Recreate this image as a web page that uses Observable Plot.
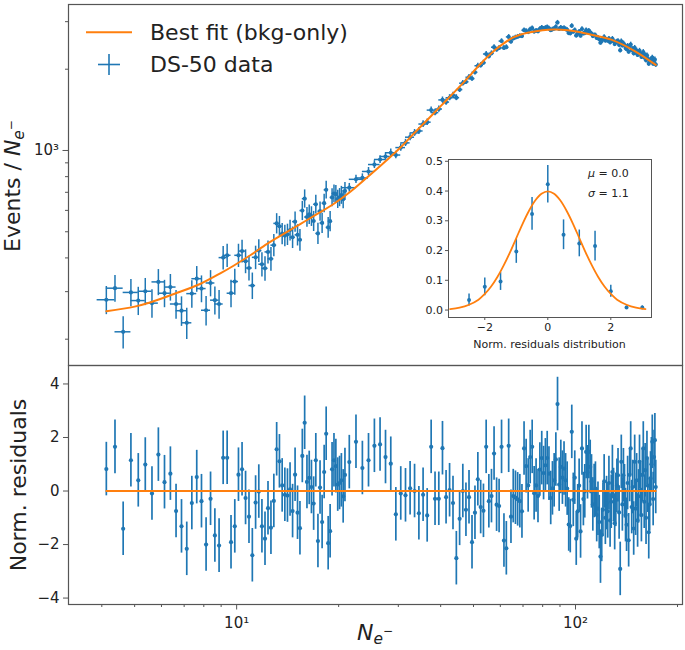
<!DOCTYPE html>
<html><head><meta charset="utf-8">
<script src="https://cdn.jsdelivr.net/npm/d3@7"></script>
<script src="https://cdn.jsdelivr.net/npm/@observablehq/plot@0.6"></script>
<style>
body{margin:0;background:#fff;}
#chart{position:relative;width:685px;height:650px;font-family:"DejaVu Sans",sans-serif;}
#chart svg{position:absolute;overflow:visible;}
</style></head><body><div id="chart"></div>
<script>
// ---- data ----
const binCenters = [4.125,4.375,4.625,4.875,5.125,5.375,5.625,5.875,6.125,6.375,6.625,6.875,7.125,7.375,7.625,7.875,8.125,8.375,8.625,8.875,9.125,9.375,9.625,9.875,10.125,10.375,10.625,10.875,11.125,11.375,11.625,11.875,12.125,12.375,12.625,12.875,13.125,13.375,13.625,13.875,14.125,14.375,14.625,14.875,15.125,15.375,15.625,15.875,16.125,16.375,16.625,16.875,17.125,17.375,17.625,17.875,18.125,18.375,18.625,18.875,19.125,19.375,19.625,19.875,20.125,20.375,20.625,20.875,
21.5,22.5,23.5,24.5,25.5,26.5,27.5,28.5,29.5,30.5,31.5,32.5,33.5,34.5,35.5,36.5,37.5,38.5,39.5,40.5,41.5,42.5,43.5,44.5,45.5,46.5,47.5,48.5,49.5,50.5,51.5,52.5,53.5,54.5,55.5,56.5,57.5,58.5,59.5,60.5,61.5,62.5,63.5,64.5,65.5,66.5,67.5,68.5,69.5,70.5,71.5,72.5,73.5,74.5,75.5,76.5,77.5,78.5,79.5,80.5,81.5,82.5,83.5,84.5,85.5,86.5,87.5,88.5,89.5,90.5,91.5,92.5,93.5,94.5,95.5,96.5,97.5,98.5,99.5,100.5,101.5,102.5,103.5,104.5,105.5,106.5,107.5,108.5,109.5,110.5,111.5,112.5,113.5,114.5,115.5,116.5,117.5,118.5,119.5,120.5,121.5,122.5,123.5,124.5,125.5,126.5,127.5,128.5,129.5,130.5,131.5,132.5,133.5,134.5,135.5,136.5,137.5,138.5,139.5,140.5,141.5,142.5,143.5,144.5,145.5,146.5,147.5,148.5,149.5,150.5,151.5,152.5,153.5,154.5,155.5,156.5,157.5,158.5,159.5,160.5,161.5,162.5,163.5,164.5,165.5,166.5,167.5,168.5,169.5,170.5,171.5,172.5];
const binWidths = [0.25, 1];       // Ne- bin width below / above 21 Ne-
const binWidthEdge = 21;

const eventsPerNe = [280,309,213,298,278,301,272,326,296,312,
270,255,230,295,335,308,256,323,279,270,
401,409,296,327,409,424,389,367,316,402,
426,379,366,421,397,446,537,524,492,484,
489,507,477,545,487,467,599,663,567,580,
571,548,632,493,596,539,638,715,519,547,
670,693,689,661,671,684,660,708,
728,782,791,836,887,926,950,981,962,1025,
1067,1120,1162,1181,1253,1273,1411,1381,1424,1539,
1511,1568,1602,1569,1681,1775,1796,1868,1846,1949,
2060,2068,2114,2277,2232,2291,2413,2365,2397,2542,
2398,2413,2635,2531,2600,2622,2639,2655,2653,2790,
2769,2744,2810,2839,2756,2778,2763,2821,2850,2825,
2845,2862,2834,2789,2810,2827,2868,2978,2818,2851,
2827,2842,2816,2797,2723,2715,2895,2755,2791,2665,
2711,2755,2663,2818,2712,2720,2790,2743,2776,2740,
2704,2652,2671,2669,2611,2615,2582,2508,2543,2583,
2630,2553,2573,2549,2595,2516,2544,2592,2540,2479,
2513,2531,2542,2463,2349,2538,2449,2493,2454,2399,
2372,2439,2323,2431,2469,2351,2376,2290,2400,2304,
2344,2260,2291,2341,2278,2222,2282,2316,2210,2254,
2158,2251,2190,2097,2134,2167,2179,2206,2095,2155,
2172,2080];

const normResiduals = [0.82,1.65,-1.41,1.15,0.40,0.99,-0.09,1.36,0.33,0.65,
-0.75,-1.32,-2.16,-0.45,0.52,-0.38,-2.00,-0.29,-1.66,-2.04,
1.24,1.24,-1.91,-1.32,0.61,0.81,-0.26,-0.96,-2.40,-0.43,
-0.02,-1.32,-1.78,-0.64,-1.37,-0.37,1.56,1.11,0.21,-0.14,
-0.17,0.06,-0.75,0.61,-0.81,-1.39,1.31,2.55,0.34,0.49,
0.15,-0.47,1.15,-1.87,0.13,-1.16,0.71,2.14,-1.95,-1.50,
0.81,1.15,0.93,0.24,0.30,0.40,-0.20,0.60,
1.08,1.84,0.86,1.15,1.69,1.74,1.27,1.02,-0.87,-0.09,
-0.16,0.10,0.00,-0.83,-0.14,-0.91,1.65,-0.29,-0.29,1.60,
-0.23,0.03,-0.45,-2.51,-1.04,0.00,-0.70,-0.23,-1.91,-0.81,
0.44,-0.60,-0.74,1.65,-0.38,-0.19,1.40,-0.51,-0.56,1.65,
-1.85,-2.14,1.69,-0.96,-0.19,-0.25,-0.31,-0.38,-0.76,1.59,
0.93,0.21,1.27,1.65,-0.08,0.21,-0.19,0.80,1.23,0.67,
0.96,1.23,0.65,-0.26,0.10,0.40,1.18,3.25,0.24,0.90,
0.50,0.84,0.40,0.09,-1.25,-1.31,2.21,-0.33,0.50,-1.78,
-0.76,0.20,-1.51,1.59,-0.30,-0.01,1.46,0.70,1.46,0.90,
0.36,-0.50,0.00,0.09,-0.90,-0.66,-1.16,-2.45,-1.64,-0.70,
0.36,-1.00,-0.45,-0.76,0.30,-1.10,-0.40,0.71,-0.15,-1.20,
-0.33,0.20,0.59,-0.80,-2.91,1.09,-0.50,0.59,-0.01,-0.90,
-1.26,0.30,-1.84,0.60,1.59,-0.60,0.15,-1.40,1.09,-0.66,
0.40,-1.10,-0.20,1.09,0.03,-0.90,0.60,1.59,-0.40,0.78,
-1.00,1.23,0.20,-1.54,-0.50,0.47,1.00,1.84,-0.30,1.27,
1.90,0.15];

const fitNe = [4.125,5,5.58,6.53,7.83,9,9.82,11,12.3,13.8,15.45,17.3,19.37,21.7,24.3,27.3,30.5,33.3,37,41.8,47,52.5,58,65.8,73.6,80,86.3,95,103.4,115,129.7,150,172.5];
const fitEvents = [254,264,274,294,321,352,375,410,451,492,535,582,635,705,796,905,1028,1153,1320,1545,1800,2095,2360,2629,2743,2790,2806,2790,2743,2660,2553,2330,2075];

const histCenters = [-2.5,-2.0,-1.5,-1.0,-0.5,0.0,0.5,1.0,1.5,2.0,2.5,3.0];
const histDensity = [0.034,0.078,0.096,0.197,0.323,0.423,0.253,0.224,0.215,0.063,0.009,0.009];
const histErrors  = [0.020,0.030,0.030,0.040,0.055,0.063,0.050,0.045,0.050,0.020,0.005,0.005];

const gaussX = [-3.1,-2.8,-2.5,-2.2,-2.0,-1.8,-1.6,-1.4,-1.2,-1.0,-0.8,-0.6,-0.4,-0.2,0,0.2,0.4,0.6,0.8,1.0,1.2,1.4,1.6,1.8,2.0,2.2,2.5,2.8,3.1];
const gaussY = [0.003,0.008,0.018,0.035,0.054,0.079,0.111,0.150,0.194,0.242,0.290,0.333,0.368,0.391,0.399,0.391,0.368,0.333,0.290,0.242,0.194,0.150,0.111,0.079,0.054,0.035,0.018,0.008,0.003];

const topMajorTicks = [1000];
const topMinorTicks = [200,300,400,500,600,700,800,900,2000,3000];
const xMajorTicks = [10,100];
const xMinorTicks = [4,5,6,7,8,9,20,30,40,50,60,70,80,90,200];
const resTicks = [-4,-2,0,2,4];
const insetYTicks = [0,0.1,0.2,0.3,0.4,0.5];
const insetXTicks = [-2,0,2];
const supDigits = {"1":"¹","2":"²","3":"³"};

// ---- styling ----
const BLUE = "#1f77b4", ORANGE = "#ff7f0e", INK = "#222", FRAME = "#555";
const FONT = "DejaVu Sans";
const minus = d => (d < 0 ? "\u2212" + Math.abs(d) : String(d));
const pow10 = d => "10" + supDigits[String(Math.round(Math.log10(d)))];

const rows = binCenters.map((n, i) => {
  const w = n < binWidthEdge ? binWidths[0] : binWidths[1];
  const v = eventsPerNe[i];
  return {n, v, w, e: Math.sqrt(v / w), r: normResiduals[i]};
});
const fitRows = fitNe.map((n, i) => ({n, v: fitEvents[i]}));
const histRows = histCenters.map((x, i) => ({x, y: histDensity[i], e: histErrors[i]}));
const gaussRows = gaussX.map((x, i) => ({x, y: gaussY[i]}));

const xDomain = [3.19, 206.9];
const chart = document.getElementById("chart");

// ---- top panel ----
const topSvg = Plot.plot({
  width: 685, height: 365,
  marginLeft: 68, marginRight: 3, marginTop: 4, marginBottom: 0,
  style: {fontFamily: FONT, fontSize: "15px", background: "none", color: INK},
  x: {type: "log", domain: xDomain, axis: null},
  y: {type: "log", domain: [159.8, 3473], axis: null},
  marks: [
    Plot.axisY({ticks: topMinorTicks, tickSize: 3, tickFormat: () => "", label: null, stroke: FRAME}),
    Plot.axisY({ticks: topMajorTicks, tickSize: 5.5, tickPadding: 4, tickFormat: pow10, label: null, fontSize: 15, stroke: FRAME}),
    Plot.ruleY(rows, {y: "v", x1: d => d.n - d.w, x2: d => d.n + d.w, stroke: BLUE, strokeWidth: 1.5}),
    Plot.ruleX(rows, {x: "n", y1: d => d.v - d.e, y2: d => d.v + d.e, stroke: BLUE, strokeWidth: 1.5}),
    Plot.dot(rows, {x: "n", y: "v", r: 2.1, fill: BLUE}),
    Plot.line(fitRows, {x: "n", y: "v", stroke: ORANGE, strokeWidth: 2, curve: "catmull-rom"}),
    Plot.frame({stroke: FRAME, strokeWidth: 1.2})
  ]
});
topSvg.style.left = "0px"; topSvg.style.top = "0px";
chart.appendChild(topSvg);

// ---- bottom panel ----
const botSvg = Plot.plot({
  width: 685, height: 285,
  marginLeft: 68, marginRight: 3, marginTop: 0, marginBottom: 46,
  style: {fontFamily: FONT, fontSize: "15px", background: "none", color: INK},
  x: {type: "log", domain: xDomain, axis: null},
  y: {domain: [-4.24, 4.69], axis: null},
  marks: [
    Plot.axisY({ticks: resTicks, tickSize: 5, tickPadding: 4, tickFormat: minus, label: null, fontSize: 15, stroke: FRAME}),
    Plot.axisX({ticks: xMinorTicks, tickSize: 3, tickFormat: () => "", label: null, stroke: FRAME}),
    Plot.axisX({ticks: xMajorTicks, tickSize: 5.5, tickPadding: 7, tickFormat: pow10, label: null, fontSize: 15, stroke: FRAME}),
    Plot.ruleX(rows, {x: "n", y1: d => d.r - 1, y2: d => d.r + 1, stroke: BLUE, strokeWidth: 1.7}),
    Plot.dot(rows, {x: "n", y: "r", r: 2.1, fill: BLUE}),
    Plot.line(rows, {x: "n", y: () => 0, stroke: ORANGE, strokeWidth: 2}),
    Plot.frame({stroke: FRAME, strokeWidth: 1.2})
  ]
});
botSvg.style.left = "0px"; botSvg.style.top = "365px";
chart.appendChild(botSvg);

// ---- inset ----
const insetSvg = Plot.plot({
  width: 247, height: 198,
  marginLeft: 40, marginRight: 4, marginTop: 4, marginBottom: 36,
  style: {fontFamily: FONT, fontSize: "11px", background: "none", color: INK},
  x: {domain: [-3.152, 3.292], axis: null},
  y: {domain: [-0.025, 0.506], axis: null},
  marks: [
    Plot.frame({fill: "white", stroke: "none"}),
    Plot.axisY({ticks: insetYTicks, tickSize: 3, tickPadding: 2.5, tickFormat: d3.format(".1f"), label: null, fontSize: 11, stroke: FRAME}),
    Plot.axisX({ticks: insetXTicks, tickSize: 3, tickPadding: 3, tickFormat: minus, label: null, fontSize: 11, stroke: FRAME}),
    Plot.ruleX(histRows, {x: "x", y1: d => d.y - d.e, y2: d => d.y + d.e, stroke: BLUE, strokeWidth: 1.5}),
    Plot.dot(histRows, {x: "x", y: "y", r: 2, fill: BLUE}),
    Plot.line(gaussRows, {x: "x", y: "y", stroke: ORANGE, strokeWidth: 1.8, curve: "catmull-rom"}),
    Plot.frame({stroke: FRAME, strokeWidth: 1})
  ]
});
insetSvg.style.left = "408px"; insetSvg.style.top = "155px";
chart.appendChild(insetSvg);

// ---- text helpers ----
function addText(svg, x, y, rotate, anchor, size, parts) {
  const t = d3.select(svg).append("text")
    .attr("transform", `translate(${x},${y}) rotate(${rotate})`)
    .attr("text-anchor", anchor).attr("font-size", size)
    .attr("font-family", FONT).attr("fill", INK);
  for (const p of parts) {
    const s = t.append("tspan").text(p.t);
    if (p.i) s.attr("font-style", "italic");
    if (p.s) s.attr("font-size", p.s);
    if (p.dy) s.attr("dy", p.dy);
  }
  return t;
}
const neLabel = (size) => [
  {t: "N", i: true},
  {t: "e", i: true, s: size * 0.7, dy: size * 0.2},
  {t: "\u2212", s: size * 0.55, dy: -size * 0.42}
];

// axis labels
addText(topSvg, 19.5, 186, -90, "middle", 22, [{t: "Events / "}, ...neLabel(22)]);
addText(botSvg, 25.5, 120, -90, "middle", 22, [{t: "Norm. residuals"}]);
addText(botSvg, 375, 274.5, 0, "middle", 22, neLabel(22));

// legend
const lg = d3.select(topSvg);
lg.append("line").attr("x1", 86).attr("x2", 132).attr("y1", 32.3).attr("y2", 32.3)
  .attr("stroke", ORANGE).attr("stroke-width", 2);
lg.append("line").attr("x1", 98).attr("x2", 120).attr("y1", 64.5).attr("y2", 64.5)
  .attr("stroke", BLUE).attr("stroke-width", 1.6);
lg.append("line").attr("x1", 109).attr("x2", 109).attr("y1", 54).attr("y2", 75)
  .attr("stroke", BLUE).attr("stroke-width", 1.6);
addText(topSvg, 150, 40, 0, "start", 22, [{t: "Best fit (bkg-only)"}]);
addText(topSvg, 150, 72, 0, "start", 22, [{t: "DS-50 data"}]);

// inset annotations
addText(insetSvg, 141.5, 193, 0, "middle", 11, [{t: "Norm. residuals distribution"}]);
addText(insetSvg, 180, 22, 0, "start", 11, [{t: "\u03bc", i: true}, {t: " = 0.0"}]);
addText(insetSvg, 180, 42, 0, "start", 11, [{t: "\u03c3", i: true}, {t: " = 1.1"}]);
</script></body></html>
